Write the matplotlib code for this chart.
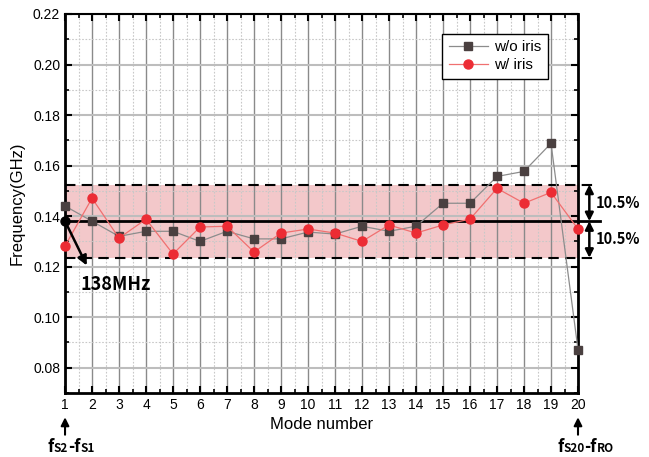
import matplotlib

matplotlib.use("Agg")

import matplotlib.pyplot as plt
from matplotlib.offsetbox import AnnotationBbox, HPacker, TextArea
from matplotlib.ticker import MultipleLocator

plt.rcParams["font.family"] = ["Liberation Sans", "DejaVu Sans"]
BOLD_FONT = ["Noto Sans CJK KR", "DejaVu Sans"]

# mode spacing per mode number, GHz
modes = list(range(1, 21))
wo_iris = [0.144, 0.138, 0.132, 0.134, 0.134, 0.130, 0.134, 0.131, 0.131, 0.1337,
           0.1329, 0.136, 0.134, 0.136, 0.1451, 0.1451, 0.1557, 0.1577, 0.1688, 0.0872]
w_iris = [0.1282, 0.1471, 0.1313, 0.1388, 0.125, 0.1357, 0.136, 0.1258, 0.1333, 0.1349,
          0.1333, 0.130, 0.1365, 0.1333, 0.1365, 0.1388, 0.151, 0.1451, 0.1494, 0.1349]

center = 0.138
center_label = "138MHz"
tol_pct = 10.5
band_lo = center * (1 - tol_pct / 100)
band_hi = center * (1 + tol_pct / 100)

fig = plt.figure(figsize=(6.49, 4.57), dpi=100)
ax = fig.add_axes([0.1002, 0.140, 0.7904, 0.8294])

ax.set_xlim(1, 20)
ax.set_ylim(0.07, 0.22)
ax.xaxis.set_major_locator(MultipleLocator(1))
ax.xaxis.set_minor_locator(MultipleLocator(0.5))
ax.yaxis.set_major_locator(MultipleLocator(0.02))
ax.yaxis.set_minor_locator(MultipleLocator(0.01))
ax.yaxis.set_major_formatter(lambda v, p: f"{v:.2f}")

ax.grid(which="major", axis="x", color="#8a8a8a", lw=1.0)
ax.grid(which="major", axis="y", color="#bdbdbd", lw=1.5)
ax.grid(which="minor", color="#c8c8c8", lw=0.8, ls=(0, (1.5, 1.5)))
ax.set_axisbelow(True)

ax.tick_params(which="both", direction="in", top=True, right=True, labelsize=10)
ax.tick_params(which="major", length=5, width=1.5)
ax.tick_params(which="minor", length=3, width=1.2)
for s in ax.spines.values():
    s.set_linewidth(2)
ax.spines["top"].set_linewidth(1.5)

# tolerance band around the nominal spacing
ax.axhspan(band_lo, band_hi, facecolor="#d94a52", alpha=0.3, lw=0, zorder=0.4)
ax.plot([1, 20.6], [band_hi, band_hi], color="black", lw=1.5, ls=(0, (5, 3)), clip_on=False, zorder=3)
ax.plot([1, 20.6], [band_lo, band_lo], color="black", lw=1.5, ls=(0, (5, 3)), clip_on=False, zorder=3)
ax.plot([1, 20.8], [center, center], color="black", lw=2, clip_on=False, zorder=3)

ax.plot(modes, wo_iris, color="#8c8c8c", lw=0.9, marker="s", ms=5.2,
        mfc="#4a4040", mec="#4a4040", clip_on=False, zorder=4, label="w/o iris")
ax.plot(modes, w_iris, color="#f07070", lw=0.9, marker="o", ms=6.5,
        mfc="#ec2c34", mec="#ec2c34", clip_on=False, zorder=5, label="w/ iris")

leg = ax.legend(loc="upper right", bbox_to_anchor=(0.956, 0.968), fontsize=11,
                fancybox=False, framealpha=1, edgecolor="black", borderpad=0.4,
                handlelength=2.6, handletextpad=0.4, labelspacing=0.3)
leg.get_frame().set_linewidth(1.0)

ax.set_xlabel("Mode number", fontsize=12, labelpad=4)
ax.set_ylabel("Frequency(GHz)", fontsize=12, labelpad=6)

# nominal spacing marker
ax.plot([1], [center], marker="o", ms=6.5, color="black", clip_on=False, zorder=6)
ax.annotate("", xy=(1.85, 0.1195), xytext=(1, center),
            arrowprops=dict(arrowstyle="-|>", color="black", lw=1.8, mutation_scale=14),
            annotation_clip=False, zorder=6)
ax.text(1.58, 0.1131, center_label, fontsize=13, fontweight="bold",
        family=BOLD_FONT, ha="left", va="center")

# +/- tolerance arrows on the right
for y0, y1 in [(center, band_hi), (center, band_lo)]:
    ax.annotate("", xy=(20.42, y1), xytext=(20.42, y0),
                arrowprops=dict(arrowstyle="<|-|>", color="black", lw=1.8,
                                mutation_scale=12, shrinkA=0, shrinkB=0),
                annotation_clip=False)
    ax.text(20.66, (y0 + y1) / 2, f"{tol_pct}%", fontsize=10.5, fontweight="bold",
            family=BOLD_FONT, ha="left", va="center")

# labels under first and last mode
xt = ax.get_xaxis_transform()
for xm, xc, parts in [(1, 1.22, [("f", 12), ("S2", 8.5), ("-f", 12), ("S1", 8.5)]),
                      (20, 20.28, [("f", 12), ("S20", 8.5), ("-f", 12), ("RO", 8.5)])]:
    ax.annotate("", xy=(xm, -0.064), xytext=(xm, -0.11), xycoords=xt, textcoords=xt,
                arrowprops=dict(arrowstyle="-|>", color="black", lw=1.5,
                                mutation_scale=12, shrinkA=0, shrinkB=0),
                annotation_clip=False)
    boxes = [TextArea(t, textprops=dict(fontsize=fs, fontweight="bold", family=BOLD_FONT))
             for t, fs in parts]
    pack = HPacker(children=boxes, align="baseline", pad=0, sep=0)
    ab = AnnotationBbox(pack, (xc, -0.143), xycoords=xt, frameon=False,
                        box_alignment=(0.5, 0.5), annotation_clip=False)
    ax.add_artist(ab)

fig.savefig("out.png", dpi=100)
